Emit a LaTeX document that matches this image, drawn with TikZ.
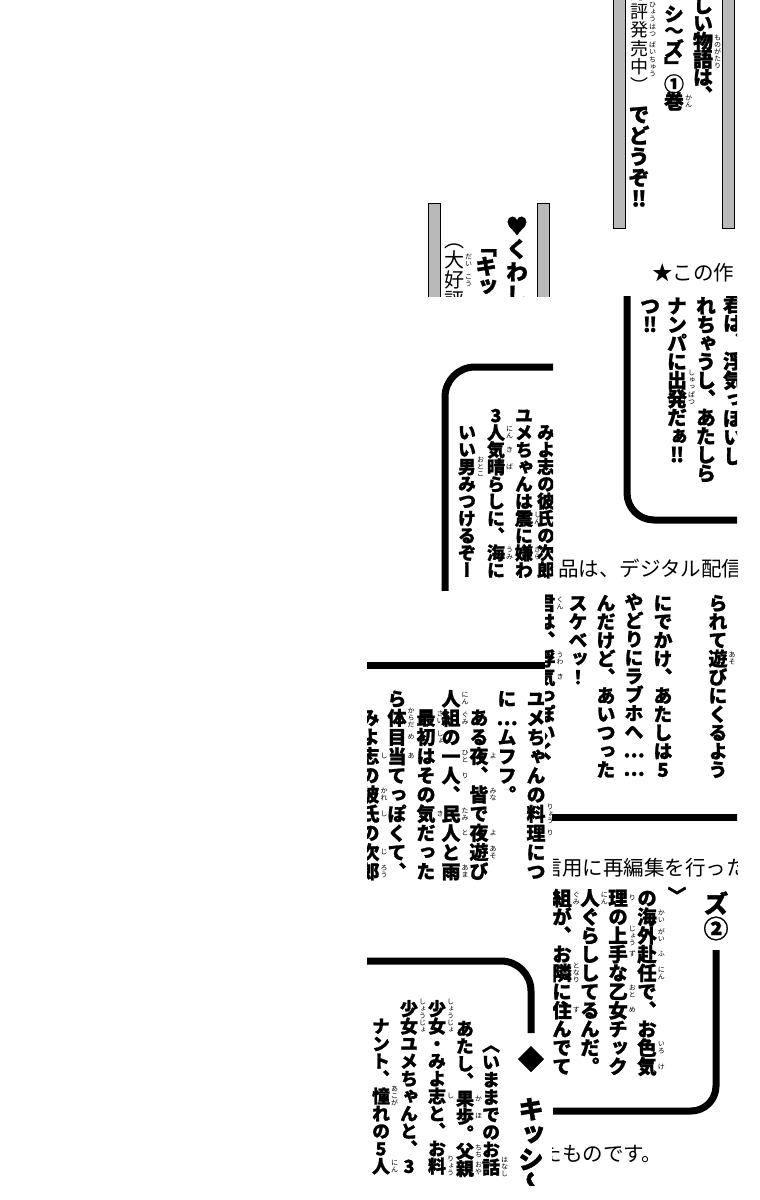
\documentclass[tikz,border=0pt]{standalone}
\usepackage{fontspec}
\newfontfamily\vjp[RawFeature=+vert, BoldFeatures={FakeBold=1.2}]{Noto Sans CJK JP}
\newfontfamily\hjp{Noto Sans CJK JP}
\newdimen\colpitch
\def\cvend{\cvend}
\def\cvloop#1{\ifx\cvend#1\else\cvcell{#1}\expandafter\cvloop\fi}
\def\cvcell#1{\hbox to 1em{\hss\vrule height\dimexpr\colpitch*88/100\relax depth\dimexpr\colpitch*12/100\relax width0pt\smash{#1}\hss}}
\newcommand\vcolumn[2]{\vbox{\offinterlineskip\colpitch=#1\relax\cvloop#2\cvend}}
\def\rbloop#1{\ifx\cvend#1\else\hbox to 1em{\hss\vrule height .88em depth .12em width0pt\smash{#1}\hss}\expandafter\rbloop\fi}
\def\rubyfont{\vjp\mdseries\fontsize{7}{7}\selectfont}
\newcommand\rb[2]{#1\rlap{\kern1pt\smash{\rbstack{#2}}}}
\def\rbstack#1{\setbox2=\vbox{\rubyfont\offinterlineskip\rbloop#1\cvend\kern0pt}\raise\dimexpr0.38em-0.5\ht2\relax\box2}
\tikzset{
  vcol/.style={anchor=north, inner sep=0pt, outer sep=0pt},
  htext/.style={anchor=base west, inner sep=0pt, outer sep=0pt},
  frame/.style={line width=7pt, rounded corners=#1},
  bar/.style={fill=gray!55, draw=black, line width=0.9pt},
  rule/.style={line width=7pt}
}
\newcommand\VC[6]{\node[vcol, font=\vjp\bfseries\fontsize{#4}{#4}\selectfont] (#1) at (#2,#3) {\vcolumn{#5pt}{#6}};}
\newcommand\VR[6]{\node[vcol, font=\vjp\mdseries\fontsize{#4}{#4}\selectfont] (#1) at (#2,#3) {\vcolumn{#5pt}{#6}};}
\newcommand\HT[5]{\node[htext, font=\hjp\fontsize{#4}{#4}\selectfont] (#1) at (#2,#3) {#5};}
\begin{document}
\begin{tikzpicture}[x=1pt, y=-1pt]
\useasboundingbox (0,0) rectangle (760,1200);
\fill[white] (0,0) rectangle (760,1200);

% fragment 1
\begin{scope}
\clip (605,0) rectangle (742,230);
\draw[bar] (613,-5) rectangle (625,228);
\draw[bar] (722,-5) rectangle (734,228);
\VC{a1}{703}{-3}{20}{18}{しい{\rb{物}{もの}}{\rb{語}{がたり}}は、}
\VC{a2}{674}{6}{20}{17.5}{シ{\hjp〜}ズ」①{\rb{巻}{かん}}}
\VR{a3}{639}{-35}{18}{18.5}{（{\rb{好}{こう}}{\rb{評}{ひょう}}{\rb{発}{はつ}}{\rb{売}{ばい}}{\rb{中}{ちゅう}}）}
\VC{a4}{639}{104}{21}{21}{でどうぞ‼}
\end{scope}

% fragment 2
\begin{scope}
\clip (425,200) rectangle (553,296);
\draw[bar] (428,203) rectangle (440,305);
\draw[bar] (537,203) rectangle (549,305);
\VC{b1}{517}{214}{22}{23}{♥くわしい}
\VC{b2}{486}{237}{22}{20}{「キッシ}
\VR{b3}{454}{230}{20}{20}{（{\rb{大}{だい}}{\rb{好}{こう}}評}
\end{scope}

% line: star
\begin{scope}
\clip (640,255) rectangle (733,292);
\HT{h1}{652}{280}{20.5}{★この作品}
\end{scope}

% fragment 4
\begin{scope}
\clip (600,296) rectangle (737,526);
\draw[frame=27pt] (627,280) -- (627,520) -- (750,520);
\VC{c1}{733}{295}{20}{19}{君は、{\rb{浮}{うわ}}{\rb{気}{き}}っぽいし}
\VC{c2}{706}{297}{20}{18.6}{れちゃうし、あたしら}
\VC{c3}{677}{297}{20}{18.6}{ナンパに{\rb{出}{しゅっ}}{\rb{発}{ぱつ}}だぁ‼}
\VC{c4}{650}{297}{20}{18.6}{つ‼}
\end{scope}

% fragment 5
\begin{scope}
\clip (437,360) rectangle (553,590);
\draw[frame=30pt] (560,367) -- (445,367) -- (445,600);
\VC{d1}{546}{424}{18}{17.2}{みよ{\rb{志}{し}}の{\rb{彼}{かれ}}{\rb{氏}{し}}の{\rb{次}{じ}}{\rb{郎}{ろう}}}
\VC{d2}{524}{407}{18}{17.2}{ユメちゃんは{\rb{震}{しん}}に{\rb{嫌}{きら}}わ}
\VC{d3}{496}{407}{18}{17.2}{3{\rb{人}{にん}}{\rb{気}{き}}{\rb{晴}{ば}}らしに、{\rb{海}{うみ}}に}
\VC{d4}{467}{424}{18}{17.2}{いい{\rb{男}{おとこ}}みつけるぞー}
\end{scope}

% line: digital
\begin{scope}
\clip (553,550) rectangle (737,588);
\HT{h2}{558}{576}{20.5}{品は、デジタル配信用}
\end{scope}

% fragment 8
\begin{scope}
\clip (545,588) rectangle (737,823);
\draw[rule] (552,817) -- (745,817);
\VC{e1}{718}{594}{19}{18.5}{られて{\rb{遊}{あそ}}びにくるよう}
\VC{e2}{663}{594}{19}{18.5}{にでかけ、あたしは5}
\VC{e3}{634}{593}{19}{18.5}{やどりにラブホへ……}
\VC{e4}{606}{594}{19}{18.5}{んだけど、あいつった}
\VC{e5}{578}{594}{19}{18.5}{スケベッ！}
\VC{e6}{546}{594}{19}{18.5}{{\rb{君}{くん}}は、{\rb{浮}{うわ}}{\rb{気}{き}}っぽいく}
\end{scope}

% fragment 7
\begin{scope}
\clip (367,588) rectangle (552,890);
\draw[rule] (360,665) -- (545,665);
\VC{f1}{536}{689}{19}{19.2}{ユメちゃんの{\rb{料}{りょう}}{\rb{理}{り}}につ}
\VC{f2}{507}{689}{19}{19.2}{に…ムフフ。}
\VC{f3}{479}{708}{19}{19.2}{ある{\rb{夜}{よ}}、{\rb{皆}{みな}}で{\rb{夜}{よ}}{\rb{遊}{あそ}}び}
\VC{f4}{451}{689}{19}{19.2}{{\rb{人}{にん}}{\rb{組}{ぐみ}}の{\rb{一}{ひと}}{\rb{人}{り}}、{\rb{民}{たみ}}{\rb{人}{と}}と{\rb{雨}{あま}}}
\VC{f5}{426}{708}{19}{19.2}{{\rb{最}{さい}}{\rb{初}{しょ}}はその{\rb{気}{き}}だった}
\VC{f6}{397}{689}{19}{19.2}{ら{\rb{体}{からだ}}{\rb{目}{め}}{\rb{当}{あ}}てっぽくて、}
\VC{f7}{370}{708}{19}{19.2}{みよ{\rb{志}{し}}の{\rb{彼}{かれ}}{\rb{氏}{し}}の{\rb{次}{じ}}{\rb{郎}{ろう}}}
\end{scope}

% line: re-edit
\begin{scope}
\clip (553,850) rectangle (737,882);
\HT{h3}{541.5}{875}{20.5}{信用に再編集を行った}
\end{scope}

% fragment 10
\begin{scope}
\clip (553,882) rectangle (737,1117);
\draw[frame=25pt] (716,950) -- (716,1111) -- (545,1111);
\VC{g0}{716}{891}{25}{25}{ズ②}
\VC{g1}{677}{886}{19}{18.7}{〉}
\VC{g2}{647}{889}{19.5}{18.7}{の{\rb{海}{かい}}{\rb{外}{がい}}{\rb{赴}{ふ}}{\rb{任}{にん}}で、お{\rb{色}{いろ}}{\rb{気}{け}}}
\VC{g3}{618}{889}{19.5}{18.7}{{\rb{理}{り}}の{\rb{上}{じょう}}{\rb{手}{ず}}な{\rb{乙}{おと}}{\rb{女}{め}}チック}
\VC{g4}{590}{889}{19.5}{18.7}{{\rb{人}{にん}}ぐらししてるんだ。}
\VC{g5}{562}{889}{19.5}{18.7}{{\rb{組}{ぐみ}}が、お{\rb{隣}{となり}}に{\rb{住}{す}}んでて}
\end{scope}

% line: end
\begin{scope}
\clip (552,1140) rectangle (737,1172);
\HT{h4}{541.5}{1161}{20.5}{たものです。}
\end{scope}

% fragment 11
\begin{scope}
\clip (367,955) rectangle (552,1185);
\draw[frame=30pt] (360,961) -- (531,961) -- (531,1033);
\VC{k0}{531}{1047}{26}{25}{◆\relax キッシ〜}
\VC{k1}{491}{1036}{18}{17.5}{〈いままでのお{\rb{話}{はなし}}}
\VC{k2}{465}{1020}{18}{17.5}{あたし、{\rb{果}{か}}{\rb{歩}{ほ}}。{\rb{父}{ちち}}{\rb{親}{おや}}}
\VC{k3}{437}{1000}{18}{17.5}{{\rb{少}{しょう}}{\rb{女}{じょ}}・みよ{\rb{志}{し}}と、お{\rb{料}{りょう}}}
\VC{k4}{409}{1000}{18}{17.5}{{\rb{少}{しょう}}{\rb{女}{じょ}}ユメちゃんと、3}
\VC{k5}{381}{1017.5}{18}{17.5}{ナント、{\rb{憧}{あこが}}れの5{\rb{人}{にん}}}
\end{scope}
\end{tikzpicture}
\end{document}
